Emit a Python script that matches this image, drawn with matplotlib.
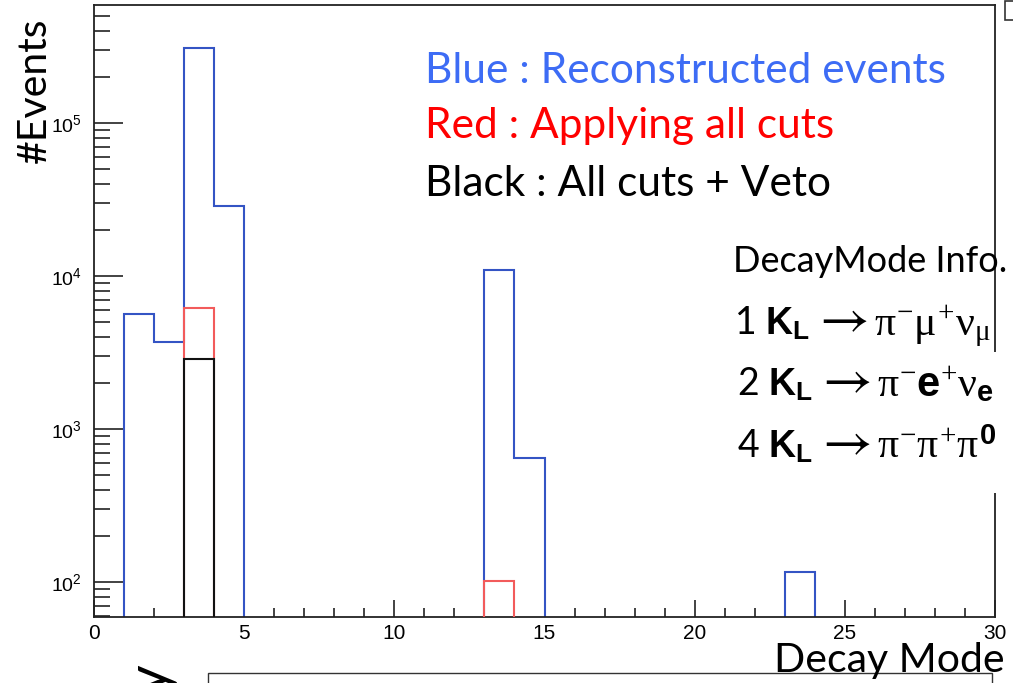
import numpy as np
import matplotlib
matplotlib.use("Agg")
import matplotlib.pyplot as plt
from matplotlib.ticker import LogLocator, MultipleLocator, NullFormatter, LogFormatterSciNotation
from matplotlib.patches import Rectangle

# ---- data: events per decay-mode bin (bin k spans [k, k+1)) ----
bin_edges = np.arange(0, 31)

reco_modes = [1, 2, 3, 4, 13, 14, 23]
reco_counts = [5600, 3700, 307000, 28500, 11000, 645, 116]

cuts_modes = [3, 13]
cuts_counts = [6150, 102]

veto_modes = [3]
veto_counts = [2850]

x_ticks = [0, 5, 10, 15, 20, 25, 30]

legend_lines = ["Blue : Reconstructed events",
                "Red : Applying all cuts",
                "Black : All cuts + Veto"]
legend_colors = ["#3d6cf5", "#ff0000", "#000000"]

mode_info_title = "DecayMode Info."
mode_numbers = ["1", "2", "4"]
mode_parent = r"$\mathbf{K}_{\mathbf{L}}$"
mode_products = [
    r"$\pi^{-}\mu^{+}\nu_{\mu}$",
    r"$\pi^{-}\mathbf{e}^{+}\nu_{\mathbf{e}}$",
    r"$\pi^{-}\pi^{+}\pi^{\mathbf{0}}$",
]

plt.rcParams["mathtext.fontset"] = "custom"
plt.rcParams["mathtext.rm"] = "Liberation Serif"
plt.rcParams["mathtext.it"] = "Liberation Serif"
plt.rcParams["mathtext.bf"] = "Liberation Sans:bold"

W, H = 1013, 683
fig = plt.figure(figsize=(W / 100, H / 100), dpi=100)
renderer = fig.canvas.get_renderer()


def fx(px):
    return px / W


def fy(py):
    return 1 - py / H


def to_bins(modes, counts):
    arr = np.zeros(len(bin_edges) - 1)
    arr[np.asarray(modes)] = counts
    # empty bins sit far below the visible range so the outline drops to the axis
    return np.where(arr > 0, arr, 1e-3)


ax = fig.add_axes([fx(94), fy(617), fx(995) - fx(94), fy(5) - fy(617)])
ax.set_yscale("log")
ax.set_xlim(0, 30)
ax.set_ylim(59, 5.9e5)

ax.stairs(to_bins(reco_modes, reco_counts), bin_edges, baseline=None,
          color="#3454c4", lw=1.5, zorder=2)
ax.stairs(to_bins(cuts_modes, cuts_counts), bin_edges, baseline=None,
          color="#f25b5b", lw=1.5, zorder=3)
ax.stairs(to_bins(veto_modes, veto_counts), bin_edges, baseline=None,
          color="#111111", lw=1.5, zorder=4)

for s in ax.spines.values():
    s.set_linewidth(1.3)
    s.set_color("#222222")

ax.xaxis.set_major_locator(MultipleLocator(5))
ax.xaxis.set_minor_locator(MultipleLocator(1))
ax.set_xticks(x_ticks)
ax.yaxis.set_major_locator(LogLocator(base=10))
ax.yaxis.set_minor_locator(LogLocator(base=10, subs=np.arange(2, 10)))
ax.yaxis.set_minor_formatter(NullFormatter())
ax.yaxis.set_major_formatter(LogFormatterSciNotation())

ax.tick_params(axis="both", which="both", direction="in", top=False, right=False,
               color="#222222", width=1.2, labelfontfamily="Liberation Sans")
ax.tick_params(axis="y", which="major", length=21, labelsize=14, pad=9)
ax.tick_params(axis="y", which="minor", length=11.5)
ax.tick_params(axis="x", which="major", length=12.5, labelsize=15, pad=5)
ax.tick_params(axis="x", which="minor", length=6.5)

sans = ["Lato", "DejaVu Sans"]

# axis titles
fig.text(fx(46), fy(90), "#Events", rotation=90, rotation_mode="anchor",
         ha="center", va="baseline", fontsize=29.5, family=sans)
fig.text(fx(1005), fy(672), "Decay Mode", ha="right", va="baseline",
         fontsize=29.5, family=sans, zorder=6)

# colour key
for txt, col, base in zip(legend_lines, legend_colors, [83, 138, 196]):
    fig.text(fx(425), fy(base), txt, color=col, ha="left", va="baseline",
             fontsize=30.5, family=sans, zorder=6)

# decay-mode reference box (hides the frame edge behind it)
fig.patches.append(Rectangle((fx(722), fy(493)), fx(1000) - fx(722), fy(352) - fy(493),
                             transform=fig.transFigure, facecolor="white",
                             edgecolor="none", zorder=5))
fig.text(fx(733), fy(272), mode_info_title, ha="left", va="baseline",
         fontsize=26, family=sans, zorder=6)


def chain(pieces, x0, base):
    """Place text pieces side by side on one baseline, left to right (pixels)."""
    x = x0
    for txt, fam, size, gap in pieces:
        t = fig.text(fx(x), fy(base), txt, ha="left", va="baseline",
                     fontsize=size, family=fam, zorder=6)
        x = t.get_window_extent(renderer).x1 + gap


for num, prod, base, x0 in zip(mode_numbers, mode_products, [335, 396, 458], [734, 737, 737]):
    chain([(num + " " + mode_parent, sans, 27, 9),
           ("\u2192", ["STIXGeneral", "DejaVu Sans"], 39, 5),
           (prod, sans, 30, 0)], x0, base)

# neighbouring panel fragments along the lower and right borders
fig.patches.append(Rectangle((fx(208), fy(700)), fx(992) - fx(208), fy(673) - fy(700),
                             transform=fig.transFigure, facecolor="none",
                             edgecolor="#333333", lw=1.0, zorder=1))
fig.text(fx(167), fy(664), "y", rotation=90, rotation_mode="anchor",
         ha="right", va="baseline", fontsize=40, family=sans)
fig.patches.append(Rectangle((fx(1005), fy(20)), fx(1020) - fx(1005), fy(1) - fy(20),
                             transform=fig.transFigure, facecolor="white",
                             edgecolor="#333333", lw=1.2, zorder=1))

fig.savefig("out.png", dpi=100)
